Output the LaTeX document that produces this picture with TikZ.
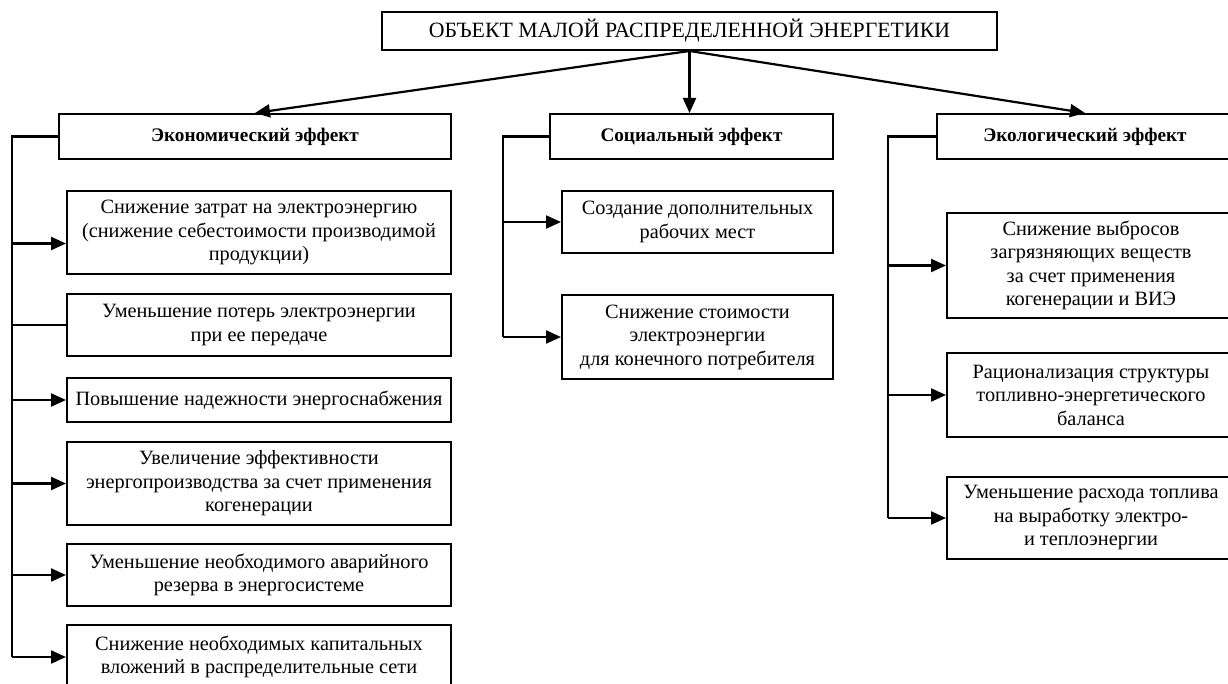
\documentclass[tikz,border=0pt]{standalone}
\usepackage{fontspec}
\setmainfont{Liberation Serif}
\usetikzlibrary{arrows.meta}

\tikzset{
  box/.style={draw, line width=2pt, align=center, inner sep=0pt,
    font=\fontsize{20.3}{23.5}\selectfont},
  headbox/.style={box, font=\bfseries\fontsize{19.2}{22}\selectfont},
  arr/.style={line width=2.2pt, -{Triangle[length=15pt,width=13pt]}},
  link/.style={line width=2.2pt}
}

\begin{document}
\begin{tikzpicture}[x=1pt,y=-1pt]
  \useasboundingbox (0,0) rectangle (1228,684);

  % top
  \node[box, minimum width=615pt, minimum height=38pt, font=\fontsize{21.8}{24}\selectfont] (top) at (689.5,31)
    {ОБЪЕКТ МАЛОЙ РАСПРЕДЕЛЕННОЙ ЭНЕРГЕТИКИ};

  % headers
  \node[headbox, minimum width=392pt, minimum height=45pt] (econ) at (255,136.5) {Экономический эффект};
  \node[headbox, minimum width=283pt, minimum height=45pt] (soc) at (691.5,136.5) {Социальный эффект};
  \node[headbox, minimum width=296pt, minimum height=45pt] (eco) at (1085,136.5) {Экологический эффект};

  \draw[arr] (top.south) -- (econ.north);
  \draw[arr] (top.south) -- (top.south |- soc.north);
  \draw[arr] (top.south) -- (eco.north);

  % economic effect
  \node[box, minimum width=384pt, minimum height=83pt] (ec1) at (259,232.5)
    {Снижение затрат на электроэнергию\\(снижение себестоимости производимой\\продукции)};
  \node[box, minimum width=384pt, minimum height=62pt] (ec2) at (259,325)
    {Уменьшение потерь электроэнергии\\при ее передаче};
  \node[box, minimum width=384pt, minimum height=44pt] (ec3) at (259,400)
    {Повышение надежности энергоснабжения};
  \node[box, minimum width=384pt, minimum height=83pt] (ec4) at (259,483.5)
    {Увеличение эффективности\\энергопроизводства за счет применения\\когенерации};
  \node[box, minimum width=384pt, minimum height=62pt] (ec5) at (259,575)
    {Уменьшение необходимого аварийного\\резерва в энергосистеме};
  \node[box, minimum width=384pt, minimum height=64pt] (ec6) at (259,657)
    {Снижение необходимых капитальных\\вложений в распределительные сети};

  \coordinate (ebus) at (12,0);
  \draw[link] (econ.west) -| (ebus |- ec6.west);
  \draw[arr] (ebus |- ec1.west) ++(0,11) -- ([yshift=-11pt]ec1.west);
  \draw[link] (ebus |- ec2.west) -- (ec2.west);
  \foreach \n in {ec3,ec4,ec5,ec6}
    \draw[arr] (ebus |- \n.west) -- (\n.west);

  % social effect
  \node[box, minimum width=271pt, minimum height=62pt] (so1) at (697.5,222)
    {Создание дополнительных\\рабочих мест};
  \node[box, minimum width=271pt, minimum height=84pt] (so2) at (697.5,337)
    {Снижение стоимости\\электроэнергии\\для конечного потребителя};

  \coordinate (sbus) at (503,0);
  \draw[link] (soc.west) -| (sbus |- so2.west);
  \foreach \n in {so1,so2}
    \draw[arr] (sbus |- \n.west) -- (\n.west);

  % ecological effect
  \node[box, minimum width=288pt, minimum height=105pt] (el1) at (1091,265.5)
    {Снижение выбросов\\загрязняющих веществ\\за счет применения\\когенерации и ВИЭ};
  \node[box, minimum width=288pt, minimum height=84pt] (el2) at (1091,395)
    {Рационализация структуры\\топливно-энергетического\\баланса};
  \node[box, minimum width=288pt, minimum height=82pt] (el3) at (1091,518)
    {Уменьшение расхода топлива\\на выработку электро-\\и теплоэнергии};

  \coordinate (lbus) at (888,0);
  \draw[link] (eco.west) -| (lbus |- el3.west);
  \foreach \n in {el1,el2,el3}
    \draw[arr] (lbus |- \n.west) -- (\n.west);
\end{tikzpicture}
\end{document}
